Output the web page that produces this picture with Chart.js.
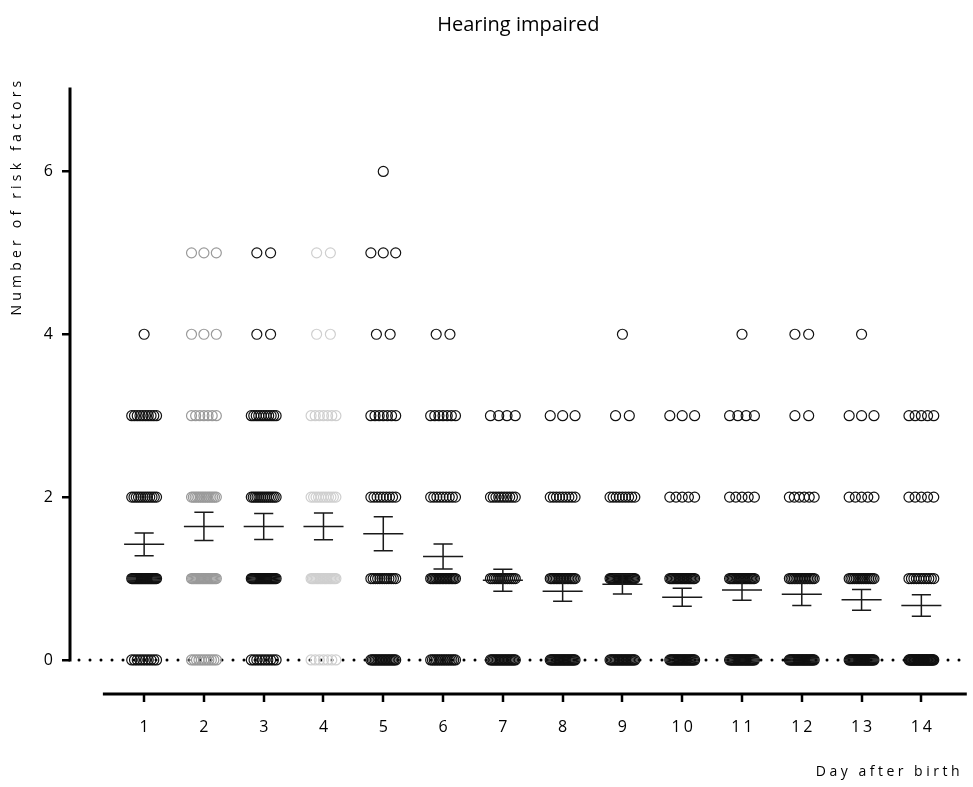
<!DOCTYPE html>
<html>
<head>
<meta charset="utf-8">
<script src="https://cdn.jsdelivr.net/npm/chart.js@4.4.1/dist/chart.umd.min.js"></script>
<style>
  html, body { margin: 0; padding: 0; background: #ffffff; }
  #wrap { width: 973px; height: 787px; position: relative; }
</style>
</head>
<body>
<div id="wrap"><canvas id="chart" width="973" height="787"></canvas></div>
<script>
// Days after birth (x categories)
const days = [1, 2, 3, 4, 5, 6, 7, 8, 9, 10, 11, 12, 13, 14];

// Number of infants at each risk-factor count, one entry per day
const count0 = [10, 11, 10, 7, 18, 15, 19, 23, 20, 23, 24, 25, 27, 33];
const count1 = [25, 22, 24, 20, 12, 18, 14, 17, 22, 20, 20, 16, 15, 11];
const count2 = [12, 15, 14, 11, 9, 9, 10, 9, 9, 5, 5, 6, 5, 5];
const count3 = [10, 7, 11, 7, 7, 7, 4, 3, 2, 3, 4, 2, 3, 5];
const count4 = [1, 3, 2, 2, 2, 2, 0, 0, 1, 0, 1, 2, 1, 0];
const count5 = [0, 3, 2, 2, 3, 0, 0, 0, 0, 0, 0, 0, 0, 0];
const count6 = [0, 0, 0, 0, 1, 0, 0, 0, 0, 0, 0, 0, 0, 0];

// Mean and standard error of the mean per day
const meanVals = [1.42, 1.64, 1.64, 1.64, 1.55, 1.27, 0.98, 0.845, 0.93, 0.77, 0.86, 0.808, 0.738, 0.668];
const semVals  = [0.14, 0.174, 0.16, 0.165, 0.209, 0.154, 0.135, 0.125, 0.12, 0.11, 0.126, 0.14, 0.128, 0.132];

// Y axis tick labels
const yTicks = [0, 2, 4, 6];

// Marker colour per day
const dayColors = ['#111111', '#9a9a9a', '#111111', '#cfcfcf', '#111111', '#111111', '#111111',
                   '#111111', '#111111', '#111111', '#111111', '#111111', '#111111', '#111111'];

const levelCounts = [count0, count1, count2, count3, count4, count5, count6];

// Spread the dots of one row sideways so they do not sit on top of each other
function rowOffsets(n) {
  if (n <= 1) return [0];
  const step = Math.min(0.23, 0.415 / (n - 1));
  const out = [];
  for (let i = 0; i < n; i++) out.push((i - (n - 1) / 2) * step);
  return out;
}

function pointsForDay(d) {
  const pts = [];
  levelCounts.forEach((arr, level) => {
    const n = arr[d];
    if (!n) return;
    rowOffsets(n).forEach(off => pts.push({ x: days[d] + off, y: level }));
  });
  return pts;
}

const FONT = "'Open Sans', 'DejaVu Sans', sans-serif";

const datasets = days.map((day, d) => ({
  label: 'Day ' + day,
  data: pointsForDay(d),
  pointRadius: 5,
  pointHoverRadius: 5,
  pointBorderWidth: 1.2,
  pointBorderColor: dayColors[d],
  pointBackgroundColor: 'rgba(0,0,0,0)',
  showLine: false,
  clip: false
}));

// Axes, dotted zero line, error bars and text labels
const decorations = {
  id: 'decorations',
  beforeDatasetsDraw(chart) {
    const { ctx, chartArea, scales: { x, y } } = chart;
    const y0 = y.getPixelForValue(0);
    ctx.save();
    // dotted reference line at zero
    ctx.strokeStyle = '#000';
    ctx.lineWidth = 3;
    ctx.lineCap = 'round';
    ctx.setLineDash([0, 11]);
    ctx.beginPath();
    ctx.moveTo(chartArea.left + 9, y0);
    ctx.lineTo(chartArea.right, y0);
    ctx.stroke();
    ctx.setLineDash([]);
    ctx.lineCap = 'butt';

    // y axis line
    ctx.lineWidth = 3;
    ctx.beginPath();
    ctx.moveTo(chartArea.left, y.getPixelForValue(7.03));
    ctx.lineTo(chartArea.left, y0 + 1.5);
    ctx.stroke();

    // x axis line (offset below the plot) with ticks
    const xb = chartArea.bottom;
    ctx.beginPath();
    ctx.moveTo(x.getPixelForValue(0.31), xb);
    ctx.lineTo(chartArea.right, xb);
    ctx.stroke();
    ctx.lineWidth = 2.5;
    days.forEach(dv => {
      const px = Math.round(x.getPixelForValue(dv));
      ctx.beginPath();
      ctx.moveTo(px, xb);
      ctx.lineTo(px, xb + 8);
      ctx.stroke();
    });

    // x tick labels
    ctx.fillStyle = '#000';
    ctx.font = '16px ' + FONT;
    ctx.letterSpacing = '3px';
    ctx.textAlign = 'center';
    ctx.textBaseline = 'middle';
    days.forEach(dv => {
      ctx.fillText(String(dv), x.getPixelForValue(dv) + 1.5, xb + 33);
    });

    // axis titles
    ctx.font = '14px ' + FONT;
    ctx.letterSpacing = '3.5px';
    ctx.textAlign = 'right';
    ctx.fillText('Day after birth', 963, xb + 78);

    ctx.save();
    ctx.translate(17, 196);
    ctx.rotate(-Math.PI / 2);
    ctx.textAlign = 'center';
    ctx.letterSpacing = '4.2px';
    ctx.fillText('Number of risk factors', 0, 0);
    ctx.restore();

    // chart title
    ctx.letterSpacing = '0px';
    ctx.font = '20px ' + FONT;
    ctx.textAlign = 'center';
    ctx.fillText('Hearing impaired', (chartArea.left + chartArea.right) / 2, 25);
    ctx.restore();
  },
  afterDatasetsDraw(chart) {
    const { ctx, scales: { x, y } } = chart;
    ctx.save();
    ctx.strokeStyle = '#1a1a1a';
    ctx.lineWidth = 1.5;
    days.forEach((dv, d) => {
      const m = meanVals[d], s = semVals[d];
      const ym = y.getPixelForValue(m);
      const yu = y.getPixelForValue(m + s);
      const yl = y.getPixelForValue(m - s);
      ctx.beginPath();
      // mean line
      ctx.moveTo(x.getPixelForValue(dv - 0.335), ym);
      ctx.lineTo(x.getPixelForValue(dv + 0.335), ym);
      // SEM whisker
      const xc = x.getPixelForValue(dv);
      ctx.moveTo(xc, yu);
      ctx.lineTo(xc, yl);
      // caps
      ctx.moveTo(x.getPixelForValue(dv - 0.16), yu);
      ctx.lineTo(x.getPixelForValue(dv + 0.16), yu);
      ctx.moveTo(x.getPixelForValue(dv - 0.16), yl);
      ctx.lineTo(x.getPixelForValue(dv + 0.16), yl);
      ctx.stroke();
    });
    ctx.restore();
  }
};

new Chart(document.getElementById('chart'), {
  type: 'scatter',
  data: { datasets },
  options: {
    responsive: false,
    animation: false,
    events: [],
    layout: { padding: { top: 90, bottom: 93, left: 0, right: 0 } },
    plugins: {
      legend: { display: false },
      title: { display: false },
      tooltip: { enabled: false }
    },
    scales: {
      x: {
        type: 'linear',
        display: false,
        min: -0.24,
        max: 14.76
      },
      y: {
        type: 'linear',
        min: -0.418,
        max: 7,
        afterBuildTicks(scale) { scale.ticks = yTicks.map(v => ({ value: v })); },
        afterFit(scale) { scale.width = 70; },
        border: { display: false },
        grid: {
          display: true,
          drawOnChartArea: false,
          drawTicks: true,
          tickLength: 8,
          lineWidth: 2.5,
          color: '#000'
        },
        ticks: {
          color: '#000',
          padding: 9,
          font: { family: FONT, size: 16 }
        }
      }
    }
  },
  plugins: [decorations]
});
</script>
</body>
</html>
